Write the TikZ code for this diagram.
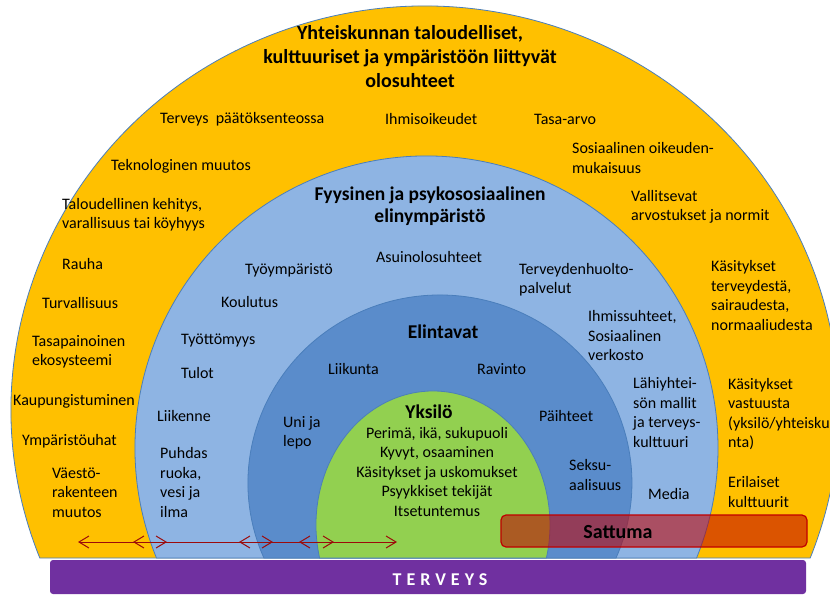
\documentclass[tikz,border=0pt]{standalone}
\usepackage{fontspec}
\setmainfont{Carlito}
\usepackage{tikz}
\usetikzlibrary{arrows.meta,positioning}

\definecolor{ringyellow}{HTML}{FFC000}
\definecolor{ringlight}{HTML}{8EB4E3}
\definecolor{ringmid}{HTML}{5A8CCB}
\definecolor{ringgreen}{HTML}{92D050}
\definecolor{ringedge}{HTML}{4A7EBB}
\definecolor{barpurple}{HTML}{7030A0}
\definecolor{chancered}{HTML}{C00000}
\definecolor{arrowred}{HTML}{9C0A0A}

\begin{document}
\begin{tikzpicture}[x=1pt,y=-1pt,
    ring/.style={draw=ringedge, line width=0.8pt},
    txt/.style={inner sep=0pt, align=left, anchor=west, font=\fontsize{16}{19.5}\selectfont},
    head/.style={inner sep=0pt, align=center, font=\bfseries\fontsize{19.5}{22.5}\selectfont},
    link/.style={draw=arrowred, line width=1pt, <->, >={Straight Barb[length=10pt,width=12pt]}}]
    \useasboundingbox (0,0) rectangle (830,596);

    % rings, outer to inner
    \filldraw [ring, fill=ringyellow] (39.8,558) arc [start angle=158.51, end angle=381.49, x radius=414, y radius=404] -- cycle;
    \filldraw [ring, fill=ringlight] (156.5,558) arc [start angle=157.87, end angle=382.13, x radius=291.5, y radius=292] -- cycle;
    \filldraw [ring, fill=ringmid] (263.9,558) arc [start angle=156.49, end angle=383.51, x radius=192, y radius=188] -- cycle;
    \filldraw [ring, fill=ringgreen] (319.6,558) arc [start angle=165.74, end angle=374.26, x radius=117, y radius=134] -- cycle;

    % society
    \node [head, font=\bfseries\fontsize{20}{24}\selectfont] (societytitle) at (410,57) {Yhteiskunnan taloudelliset,\\kulttuuriset ja ympäristöön liittyvät\\olosuhteet};
    \node [txt] (decisions) at (160,119) {Terveys\ \ päätöksenteossa};
    \node [txt] (rights) at (385,119) {Ihmisoikeudet};
    \node [txt] (equality) at (534,119) {Tasa-arvo};
    \node [txt] (technology) at (111,166) {Teknologinen muutos};
    \node [txt] (economy) at (62,214.5) {Taloudellinen kehitys,\\varallisuus tai köyhyys};
    \node [txt] (peace) at (62,264) {Rauha};
    \node [txt] (safety) at (42,303) {Turvallisuus};
    \node [txt] (ecosystem) at (32,352) {Tasapainoinen\\ekosysteemi};
    \node [txt] (urban) at (13,401) {Kaupungistuminen};
    \node [txt] (threats) at (22,441) {Ympäristöuhat};
    \node [txt] (population) at (52,492.5) {Väestö-\\rakenteen\\muutos};
    \node [txt] (justice) at (572,158) {Sosiaalinen oikeuden-\\mukaisuus};
    \node [txt] (values) at (631,207) {Vallitsevat\\arvostukset ja normit};
    \node [txt] (notions) at (711,295.5) {Käsitykset\\terveydestä,\\sairaudesta,\\normaaliudesta};
    \node [txt] (responsibility) at (728,414) {Käsitykset\\vastuusta\\(yksilö/yhteisku\\nta)};
    \node [txt] (cultures) at (728,492) {Erilaiset\\kulttuurit};

    % living environment
    \node [head] (envtitle) at (430,206) {Fyysinen ja psykososiaalinen\\elinympäristö};
    \node [txt] (housing) at (376,257) {Asuinolosuhteet};
    \node [txt] (workplace) at (245,270) {Työympäristö};
    \node [txt] (services) at (519,279.5) {Terveydenhuolto-\\palvelut};
    \node [txt] (education) at (221,302) {Koulutus};
    \node [txt] (unemployment) at (181,340) {Työttömyys};
    \node [txt] (income) at (181,373) {Tulot};
    \node [txt] (traffic) at (157,416) {Liikenne};
    \node [txt] (cleanfood) at (160,482.5) {Puhdas\\ruoka,\\vesi ja\\ilma};
    \node [txt] (relations) at (588,336) {Ihmissuhteet,\\Sosiaalinen\\verkosto};
    \node [txt] (community) at (633,412.5) {Lähiyhtei-\\sön mallit\\ja terveys-\\kulttuuri};
    \node [txt] (media) at (648,494) {Media};

    % lifestyle
    \node [head] (lifestyletitle) at (443,332) {Elintavat};
    \node [txt] (exercise) at (328,369) {Liikunta};
    \node [txt] (nutrition) at (477,369) {Ravinto};
    \node [txt] (sleep) at (283,433) {Uni ja\\lepo};
    \node [txt] (substances) at (539,416) {Päihteet};
    \node [txt] (sexuality) at (569,475) {Seksu-\\aalisuus};

    % individual
    \node [head] (individualtitle) at (429,412) {Yksilö};
    \node [txt, anchor=center, align=center] (traits) at (437,472) {Perimä, ikä, sukupuoli\\Kyvyt, osaaminen\\Käsitykset ja uskomukset\\Psyykkiset tekijät\\Itsetuntemus};

    % chance and health
    \node [draw=chancered, line width=1.2pt, fill=chancered, fill opacity=0.56, rounded corners=5pt, minimum width=306pt, minimum height=32pt, inner sep=0pt] (chance) at (654,531) {};
    \node [head, font=\bfseries\fontsize{20}{24}\selectfont] (chancelabel) at (618,532) {Sattuma};
    \node [fill=barpurple, rounded corners=3pt, minimum width=756pt, minimum height=34pt, inner sep=0pt] (bar) at (428,577) {};
    \node [inner sep=0pt, text=white, font=\bfseries\fontsize{18}{20}\selectfont\addfontfeatures{LetterSpace=28}] (barlabel) at (440,579.5) {TERVEYS};

    % interaction arrows
    \coordinate (l0) at (78,542);
    \coordinate (r0) at (397,542);
    \coordinate (l1) at (133,542);
    \coordinate (r1) at (167,542);
    \coordinate (l2) at (239,542);
    \coordinate (r2) at (273,542);
    \coordinate (l3) at (299,542);
    \coordinate (r3) at (334,542);
    \draw [link] (l0) -- (r0);
    \draw [link] (l1) -- (r1);
    \draw [link] (l2) -- (r2);
    \draw [link] (l3) -- (r3);
\end{tikzpicture}
\end{document}
